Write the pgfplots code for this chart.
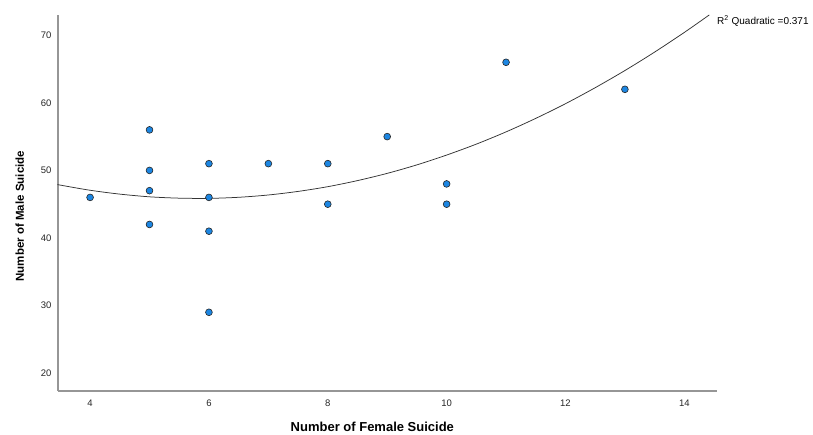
\documentclass[border=0pt]{standalone}
\usepackage{pgfplots}
\pgfplotsset{compat=1.18}
\usepackage{pgfplotstable}
\usepackage{fontspec}
\setmainfont{Liberation Sans}

\definecolor{dotblue}{RGB}{28,134,226}
\definecolor{axisgray}{RGB}{150,150,150}

% Female vs. male suicide counts
\pgfplotstableread{
x  y
4  46
5  56
5  50
5  47
5  42
6  51
6  46
6  41
6  29
7  51
8  51
8  45
9  55
10 48
10 45
11 66
13 62
}\suicides

% Quadratic least-squares fit, y = 58.282 - 4.2733 x + 0.36716 x^2, sampled
\pgfplotstableread{
x     y
3.46  47.89
3.5   47.82
4     47.06
4.5   46.49
5     46.09
5.5   45.89
6     45.86
6.5   46.02
7     46.36
7.5   46.89
8     47.59
8.5   48.49
9     49.56
9.5   50.82
10    52.27
10.5  53.89
11    55.70
11.5  57.70
12    59.87
12.5  62.24
13    64.78
13.5  67.51
14    70.42
14.42 73.01
}\quadfit

\begin{document}
\begin{tikzpicture}[x=1pt,y=1pt]
\path[use as bounding box] (-58,-44) rectangle (755,391);
\begin{axis}[
  scale only axis,
  width=659pt, height=376pt,
  at={(0,0)}, anchor=south west,
  xmin=3.46, xmax=14.55,
  ymin=17.35, ymax=73.0,
  xtick={4,6,...,14},
  ytick={20,30,...,70},
  axis lines*=left,
  axis line style={axisgray, line width=1.1pt},
  major tick length=0pt,
  tick style={draw=none},
  every axis line/.append style={-},
  ticklabel style={font=\fontsize{9.5}{11}\selectfont, text=black!85},
  /pgf/number format/assume math mode=true,
  xticklabel style={yshift=-5pt},
  yticklabel style={xshift=-3pt},
  xlabel={\textbf{Number of Female Suicide}},
  ylabel={\textbf{Number of Male Suicide}},
  xlabel style={font=\fontsize{13}{15}\selectfont, at={(axis description cs:0.477,-0.096)}, anchor=center},
  ylabel style={font=\fontsize{11.5}{13}\selectfont, at={(axis description cs:-0.058,0.465)}, anchor=center},
  clip=false,
]
\addplot[black!80, line width=0.75pt, smooth, no markers] table {\quadfit};
\addplot[only marks, mark=*, mark size=3.4pt,
  mark options={fill=dotblue, draw=black!85, line width=0.6pt}] table {\suicides};
\node[anchor=west, font=\fontsize{10}{12}\selectfont, inner sep=0pt]
  at (axis cs:14.55,72.1) {R\textsuperscript{2} Quadratic =0.371};
\end{axis}
\end{tikzpicture}
\end{document}
